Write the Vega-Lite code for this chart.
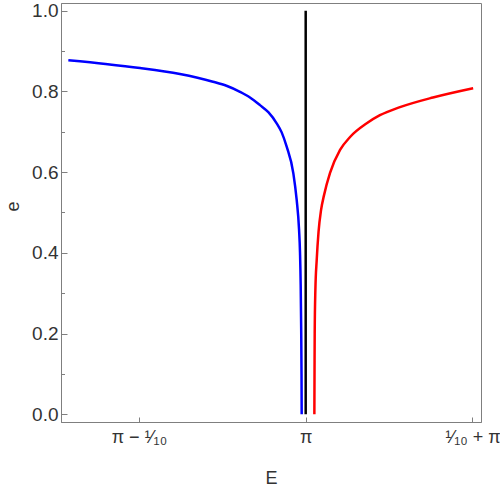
{
  "$schema": "https://vega.github.io/schema/vega-lite/v6.json",
  "width": 420,
  "height": 419,
  "autosize": {"type": "none"},
  "padding": {"left": 61, "top": 3, "right": 19, "bottom": 66},
  "config": {
    "font": "Liberation Sans",
    "view": {"stroke": "#7f7f7f", "strokeWidth": 1},
    "axis": {"domainColor": "#7f7f7f", "tickColor": "#7f7f7f", "grid": false, "labelColor": "#333333", "titleColor": "#333333", "labelFontSize": 19, "titleFontSize": 18, "titleFontWeight": "normal", "labelOverlap": false}
  },
  "datasets": {
    "curves": [
      {"series": "blue", "d": -0.1423, "e": 0.877},
      {"series": "blue", "d": -0.12, "e": 0.868},
      {"series": "blue", "d": -0.0993, "e": 0.858},
      {"series": "blue", "d": -0.0754, "e": 0.843},
      {"series": "blue", "d": -0.0556, "e": 0.824},
      {"series": "blue", "d": -0.0475, "e": 0.814},
      {"series": "blue", "d": -0.0394, "e": 0.799},
      {"series": "blue", "d": -0.0334, "e": 0.785},
      {"series": "blue", "d": -0.0274, "e": 0.766},
      {"series": "blue", "d": -0.0224, "e": 0.7485},
      {"series": "blue", "d": -0.0174, "e": 0.721},
      {"series": "blue", "d": -0.0144, "e": 0.6985},
      {"series": "blue", "d": -0.0114, "e": 0.663},
      {"series": "blue", "d": -0.0074, "e": 0.597},
      {"series": "blue", "d": -0.0054, "e": 0.531},
      {"series": "blue", "d": -0.004, "e": 0.459},
      {"series": "blue", "d": -0.0034, "e": 0.4},
      {"series": "blue", "d": -0.003, "e": 0.32},
      {"series": "blue", "d": -0.0027, "e": 0.21},
      {"series": "blue", "d": -0.0025, "e": 0.1},
      {"series": "blue", "d": -0.0024, "e": 0.0},
      {"series": "red", "d": 0.0052, "e": 0.0},
      {"series": "red", "d": 0.0053, "e": 0.11},
      {"series": "red", "d": 0.0054, "e": 0.201},
      {"series": "red", "d": 0.0058, "e": 0.308},
      {"series": "red", "d": 0.0066, "e": 0.382},
      {"series": "red", "d": 0.0077, "e": 0.452},
      {"series": "red", "d": 0.0092, "e": 0.506},
      {"series": "red", "d": 0.011, "e": 0.543},
      {"series": "red", "d": 0.0146, "e": 0.598},
      {"series": "red", "d": 0.0206, "e": 0.655},
      {"series": "red", "d": 0.0266, "e": 0.687},
      {"series": "red", "d": 0.0366, "e": 0.721},
      {"series": "red", "d": 0.0445, "e": 0.741},
      {"series": "red", "d": 0.0565, "e": 0.761},
      {"series": "red", "d": 0.0763, "e": 0.785},
      {"series": "red", "d": 0.1004, "e": 0.808}
    ],
    "vline": [{"d": 0, "e0": 0, "e1": 1}]
  },
  "layer": [
    {
      "data": {"name": "curves"},
      "mark": {"type": "line", "strokeWidth": 2.5, "clip": true, "interpolate": "monotone"},
      "encoding": {
        "x": {
          "field": "d", "type": "quantitative",
          "scale": {"domain": [-0.1467, 0.1051], "nice": false, "zero": false},
          "axis": {
            "title": "E",
            "values": [-0.1, 0, 0.1],
            "labelExpr": "datum.value < -0.05 ? 'π − ¹⁄₁₀' : (datum.value > 0.05 ? '¹⁄₁₀ + π' : 'π')",
            "labelFontSize": 18,
            "tickSize": -5,
            "labelPadding": 11,
            "titleY": 61,
            "titleBaseline": "alphabetic"
          }
        },
        "y": {
          "field": "e", "type": "quantitative",
          "scale": {"domain": [-0.019, 1.019], "nice": false, "zero": false},
          "axis": {
            "title": "e",
            "values": [0, 0.05, 0.1, 0.15, 0.2, 0.25, 0.3, 0.35, 0.4, 0.45, 0.5, 0.55, 0.6, 0.65, 0.7, 0.75, 0.8, 0.85, 0.9, 0.95, 1.0],
            "labelExpr": "abs(datum.value * 5 - round(datum.value * 5)) < 0.001 ? format(datum.value, '.1f') : ''",
            "tickSize": {"expr": "abs(datum.value * 5 - round(datum.value * 5)) < 0.001 ? -6 : -3.5"},
            "labelPadding": 9,
            "titleX": -43,
            "titleY": 203,
            "titleBaseline": "alphabetic"
          }
        },
        "color": {
          "field": "series", "type": "nominal",
          "scale": {"domain": ["blue", "red"], "range": ["#0000ff", "#ff0000"]},
          "legend": null
        }
      }
    },
    {
      "data": {"name": "vline"},
      "mark": {"type": "rule", "strokeWidth": 2.5, "color": "black"},
      "encoding": {
        "x": {"field": "d", "type": "quantitative"},
        "y": {"field": "e0", "type": "quantitative"},
        "y2": {"field": "e1"}
      }
    }
  ]
}
